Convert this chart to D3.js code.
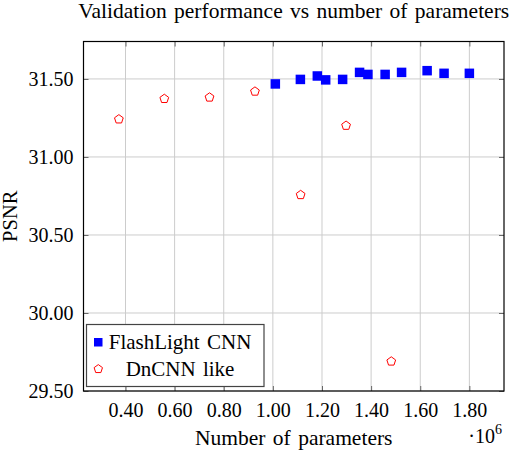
<!DOCTYPE html>
<html>
<head>
<meta charset="utf-8">
<script src="https://cdn.jsdelivr.net/npm/d3@7"></script>
<style>
  html, body { margin: 0; padding: 0; background: #fff; }
  svg { display: block; }
  text { font-family: "Liberation Serif", "Times New Roman", serif; fill: #000; }
</style>
</head>
<body>
<svg id="chart" width="510" height="452"></svg>
<script>
// ---- data (x in units of 10^6 parameters, y = PSNR) ----
const flashX = [1.010, 1.112, 1.181, 1.215, 1.284, 1.353, 1.387, 1.457, 1.524, 1.628, 1.697, 1.800];
const flashY = [31.468, 31.497, 31.519, 31.494, 31.497, 31.542, 31.529, 31.529, 31.542, 31.553, 31.536, 31.536];
const dncnnX = [0.373, 0.558, 0.742, 0.927, 1.113, 1.298, 1.482];
const dncnnY = [31.245, 31.376, 31.385, 31.423, 30.760, 31.204, 29.693];
const xTicks = [0.4, 0.6, 0.8, 1.0, 1.2, 1.4, 1.6, 1.8];
const yTicks = [29.5, 30.0, 30.5, 31.0, 31.5];
const seriesNames = ["FlashLight CNN", "DnCNN like"];
const titleText = "Validation performance vs number of parameters";
const xLabelText = "Number of parameters";
const yLabelText = "PSNR";

const SERIF = "Liberation Serif, Times New Roman, serif";
const svg = d3.select("#chart");
const L = 83.5, R = 504, T = 41.5, B = 391;

const x = d3.scaleLinear().domain([0.229, 1.941]).range([L, R]);
const y = d3.scaleLinear().domain([29.5, 31.74]).range([B, T]);
const fmt = d3.format(".2f");

// grid
const grid = svg.append("g");
grid.selectAll("line.gx").data(xTicks).join("line")
  .attr("x1", d => x(d)).attr("x2", d => x(d)).attr("y1", T).attr("y2", B)
  .attr("stroke", "#cccccc").attr("stroke-width", 1);
grid.selectAll("line.gy").data(yTicks).join("line")
  .attr("y1", d => y(d)).attr("y2", d => y(d)).attr("x1", L).attr("x2", R)
  .attr("stroke", "#cccccc").attr("stroke-width", 1);

// axes (ticks inside, labels via d3 axis)
const xAxis = svg.append("g").attr("transform", `translate(0,${B})`)
  .call(d3.axisBottom(x).tickValues(xTicks).tickFormat(fmt).tickSize(-5).tickPadding(12));
const xAxisTop = svg.append("g").attr("transform", `translate(0,${T})`)
  .call(d3.axisTop(x).tickValues(xTicks).tickFormat("").tickSize(-5));
const yAxis = svg.append("g").attr("transform", `translate(${L},0)`)
  .call(d3.axisLeft(y).tickValues(yTicks).tickFormat(fmt).tickSize(-5).tickPadding(10));
const yAxisRight = svg.append("g").attr("transform", `translate(${R},0)`)
  .call(d3.axisRight(y).tickValues(yTicks).tickFormat("").tickSize(-5));

[xAxis, xAxisTop, yAxis, yAxisRight].forEach(g => {
  g.attr("font-family", SERIF).attr("font-size", 20);
  g.select(".domain").remove();
  g.selectAll(".tick line").attr("stroke", "#666").attr("stroke-width", 1);
  g.selectAll("text").attr("font-family", SERIF).attr("font-size", 20).attr("fill", "#000");
});
xAxis.selectAll("text").attr("dy", "0.71em");

// frame
svg.append("rect").attr("x", L).attr("y", T).attr("width", R - L).attr("height", B - T)
  .attr("fill", "none").attr("stroke", "#000").attr("stroke-width", 1.2);

// marker helpers
function pentagonPath(r) {
  const pts = d3.range(5).map(i => {
    const a = -Math.PI / 2 + i * 2 * Math.PI / 5;
    return [r * Math.cos(a), r * Math.sin(a)];
  });
  return "M" + pts.map(p => p.join(",")).join("L") + "Z";
}

// series: FlashLight CNN (blue squares)
const sq = 9.5;
svg.append("g").selectAll("rect").data(d3.zip(flashX, flashY)).join("rect")
  .attr("x", d => x(d[0]) - sq / 2).attr("y", d => y(d[1]) - sq / 2)
  .attr("width", sq).attr("height", sq).attr("fill", "#0000ff");

// series: DnCNN like (red pentagons)
svg.append("g").selectAll("path").data(d3.zip(dncnnX, dncnnY)).join("path")
  .attr("transform", d => `translate(${x(d[0])},${y(d[1]) + 0.5})`)
  .attr("d", pentagonPath(4.6)).attr("fill", "#fff").attr("stroke", "#ff0000").attr("stroke-width", 1);

// legend
const lg = svg.append("g");
lg.append("rect").attr("x", 86.5).attr("y", 324.5).attr("width", 177.5).attr("height", 62)
  .attr("fill", "#fff").attr("stroke", "#444").attr("stroke-width", 1.2);
lg.append("rect").attr("x", 94).attr("y", 338).attr("width", 8.5).attr("height", 8.5).attr("fill", "#0000ff");
lg.append("path").attr("transform", "translate(98.3,369)").attr("d", pentagonPath(4.4))
  .attr("fill", "#fff").attr("stroke", "#ff0000").attr("stroke-width", 1);
lg.append("text").attr("x", 180).attr("y", 348.5).attr("text-anchor", "middle")
  .style("font-size", "21px").style("word-spacing", "2px").text(seriesNames[0]);
lg.append("text").attr("x", 180).attr("y", 375.5).attr("text-anchor", "middle")
  .style("font-size", "21px").style("word-spacing", "2px").text(seriesNames[1]);

// title & labels
svg.append("text").attr("x", (L + R) / 2).attr("y", 18).attr("text-anchor", "middle")
  .style("font-size", "21.5px").style("word-spacing", "2px").text(titleText);
svg.append("text").attr("x", (L + R) / 2).attr("y", 445).attr("text-anchor", "middle")
  .style("font-size", "21.5px").style("word-spacing", "2px").text(xLabelText);
svg.append("text").attr("transform", `translate(17,${(T + B) / 2}) rotate(-90)`).attr("text-anchor", "middle")
  .style("font-size", "20.5px").text(yLabelText);

// exponent label
const ex = svg.append("text").attr("x", 502).attr("y", 443).attr("text-anchor", "end").style("font-size", "20px");
ex.append("tspan").text("\u00b710");
ex.append("tspan").attr("dy", -9).style("font-size", "14px").text("6");
</script>
</body>
</html>
